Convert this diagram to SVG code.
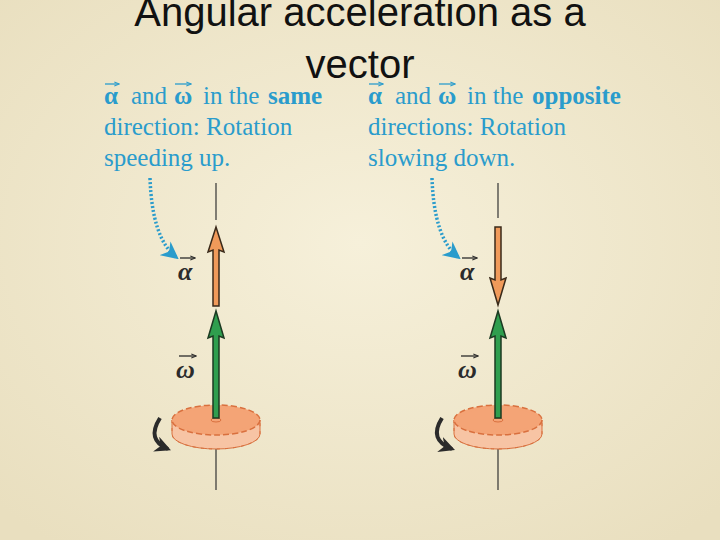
<svg xmlns="http://www.w3.org/2000/svg" width="720" height="540" viewBox="0 0 720 540">
<defs>
<radialGradient id="bg" cx="50%" cy="45%" r="70%"><stop offset="0" stop-color="#f6f0da"/><stop offset="1" stop-color="#e9dfbf"/></radialGradient>
<marker id="blue" viewBox="0 0 10 10" refX="8" refY="5" markerWidth="5" markerHeight="5" orient="auto"><path d="M0,0 L10,5 L0,10 L3,5 z" fill="#2a9ccc"/></marker>
<marker id="dark" viewBox="0 0 10 10" refX="8" refY="5" markerWidth="4" markerHeight="4" orient="auto"><path d="M0,0 L10,5 L0,10 L3,5 z" fill="#2b2b2b"/></marker>
<marker id="vh" viewBox="0 0 10 10" refX="9" refY="5" markerWidth="4" markerHeight="4" orient="auto"><path d="M0,1 L10,5 L0,9" fill="none" stroke="context-stroke" stroke-width="2"/></marker>
<g id="gear">
<path d="M-44,0 L-44,14 A44,15 0 0 0 44,14 L44,0 Z" fill="#f7c4a4" stroke="#d9703e" stroke-width="1"/>
<path d="M-44,0 L-44,14 A44,15 0 0 0 44,14 L44,0" fill="none" stroke="#d9703e" stroke-width="1" stroke-dasharray="3 5"/>
<ellipse cx="0" cy="0" rx="44" ry="15" fill="#f4a476" stroke="#d9703e" stroke-width="1.5" stroke-dasharray="6 3"/>
<ellipse cx="0" cy="0" rx="39" ry="12" fill="#f4a476"/>
<ellipse cx="0" cy="0" rx="5" ry="2" fill="none" stroke="#d9703e"/>
</g>
</defs>
<style>
.t{font-family:"Liberation Serif",serif;font-size:25px;fill:#2a9ccc}
.b{font-weight:bold}
.ttl{font-family:"Liberation Sans",sans-serif;font-size:40px;fill:#111;text-anchor:middle}
.g{font-family:"Liberation Serif",serif;font-size:26px;font-weight:bold;font-style:italic;fill:#2b2b2b}
.ax{stroke:#333;stroke-width:1.2}
.or{fill:#f09a5a;stroke:#3a2a1a;stroke-width:1.5}
.gr{fill:#2f9e4e;stroke:#1c3a22;stroke-width:1.5}
.dot{fill:none;stroke:#2a9ccc;stroke-width:3.5;stroke-dasharray:2 2}
.rot{fill:none;stroke:#2b2b2b;stroke-width:4}
.va{stroke-width:1.3;marker-end:url(#vh)}
</style>
<rect width="720" height="540" fill="url(#bg)"/>
<text class="ttl" x="360" y="26">Angular acceleration as a</text>
<text class="ttl" x="360" y="78">vector</text>
<g id="textLeft">
<text class="t" y="104"><tspan class="b" x="104">α</tspan><tspan x="131">and</tspan><tspan class="b" x="174">ω</tspan><tspan x="203">in the</tspan><tspan class="b" x="268">same</tspan></text>
<text class="t" x="104" y="135">direction: Rotation</text>
<text class="t" x="104" y="166">speeding up.</text>
</g>
<g id="textRight">
<text class="t" y="104"><tspan class="b" x="368">α</tspan><tspan x="395">and</tspan><tspan class="b" x="438">ω</tspan><tspan x="467">in the</tspan><tspan class="b" x="532">opposite</tspan></text>
<text class="t" x="368" y="135">directions: Rotation</text>
<text class="t" x="368" y="166">slowing down.</text>
</g>
<g id="accents" stroke="#2a9ccc">
<line class="va" x1="105" y1="84" x2="119" y2="84"/>
<line class="va" x1="175" y1="84" x2="191" y2="84"/>
<line class="va" x1="369" y1="84" x2="383" y2="84"/>
<line class="va" x1="439" y1="84" x2="455" y2="84"/>
</g>
<g id="accents2" stroke="#2b2b2b">
<line class="va" x1="180" y1="258" x2="195" y2="258"/>
<line class="va" x1="179" y1="356" x2="196" y2="356"/>
<line class="va" x1="462" y1="258" x2="477" y2="258"/>
<line class="va" x1="461" y1="356" x2="478" y2="356"/>
</g>
<g id="connectors">
<path class="dot" d="M150,178 Q152,238 176,257" marker-end="url(#blue)"/>
<path class="dot" d="M432,178 Q434,238 458,257" marker-end="url(#blue)"/>
<line class="ax" x1="216" y1="183" x2="216" y2="220"/>
<line class="ax" x1="216" y1="432" x2="216" y2="490"/>
<line class="ax" x1="498" y1="183" x2="498" y2="218"/>
<line class="ax" x1="498" y1="432" x2="498" y2="490"/>
</g>
<g id="leftGear"><use href="#gear" x="216" y="420"/>
<path class="rot" d="M160,418 Q146,440 168,449" marker-end="url(#dark)"/></g>
<g id="rightGear"><use href="#gear" x="498" y="420"/>
<path class="rot" d="M442,418 Q428,440 452,449" marker-end="url(#dark)"/></g>
<g id="leftAlpha"><path class="or" d="M213,306 L213,250 L208,252 L216,227 L224,252 L219,250 L219,306 Z"/></g>
<g id="leftOmega"><path class="gr" d="M213,418 L213,336 L208,338 L216,311 L224,338 L219,336 L219,418 Z"/></g>
<g id="rightAlpha"><path class="or" d="M495,227 L495,280 L490,278 L498,305 L506,278 L501,280 L501,227 Z"/></g>
<g id="rightOmega"><path class="gr" d="M495,418 L495,336 L490,338 L498,311 L506,338 L501,336 L501,418 Z"/></g>
<g id="labels">
<text class="g" x="178" y="280">α</text>
<text class="g" x="176" y="378">ω</text>
<text class="g" x="460" y="280">α</text>
<text class="g" x="458" y="378">ω</text>
</g>
</svg>
